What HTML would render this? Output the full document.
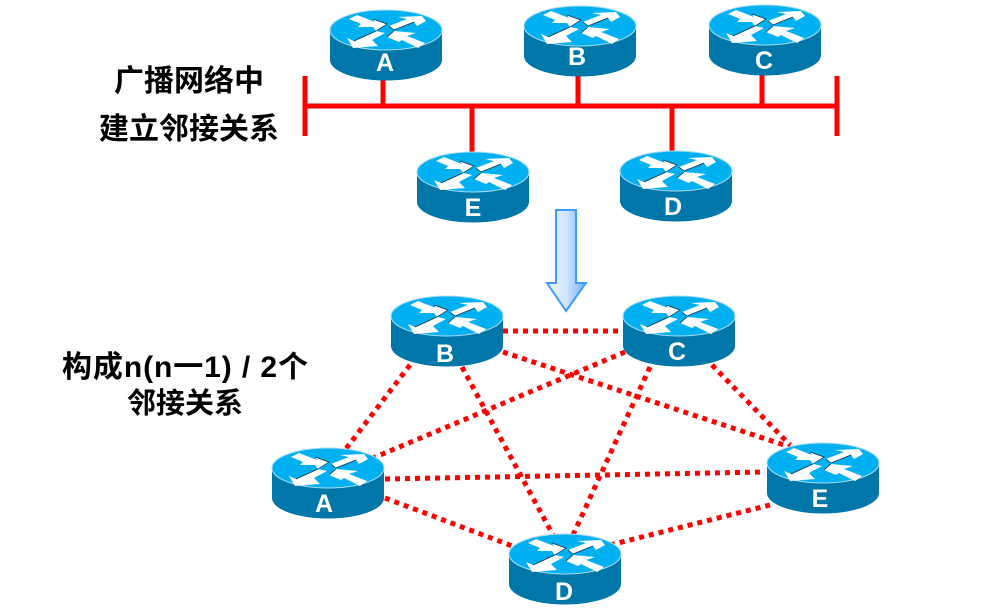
<!DOCTYPE html>
<html>
<head>
<meta charset="utf-8">
<style>
html,body{margin:0;padding:0;background:#fff;}
body{width:1002px;height:612px;overflow:hidden;}
svg{display:block;}
.t{font-family:"Liberation Sans","Noto Sans CJK SC",sans-serif;font-weight:700;font-size:30px;fill:#000;text-anchor:middle;}
.u{font-size:29px;}
.l{font-family:"Liberation Sans",sans-serif;font-weight:700;font-size:25px;fill:#fff;text-anchor:middle;}
</style>
</head>
<body>
<svg width="1002" height="612" viewBox="0 0 1002 612" xmlns="http://www.w3.org/2000/svg">
<defs>
<linearGradient id="ag" x1="0" x2="1" y1="0" y2="0">
<stop offset="0" stop-color="#f2f8ff"/><stop offset="0.5" stop-color="#cfe4fb"/><stop offset="1" stop-color="#6fb2fb"/>
</linearGradient>
<g id="r" transform="translate(0,-10)">
<path d="M-56,30 V60 A56,20.5 0 0 0 56,60 V30 Z" fill="#0077a8"/>
<ellipse cx="0" cy="30" rx="56" ry="20" fill="#00b0f0" stroke="#a8dcf0" stroke-width="1"/>
<g fill="#fff">
<polygon points="-37,19 -29,15 -11,22 -13,19 1,24 -10,31 -13,27 -28,27 -25,24"/>
<polygon points="3,26 21,19 12,17 36,16 40,21 31,26 28,22 8,30"/>
<polygon points="-1,33 -14,40 -8,46 -33,48 -39,38 -32,41 -10,31"/>
<polygon points="1,37 8,31 30,33 21,36 39,43 32,48 16,40 13,42"/>
</g>
<g fill="none" stroke="#0a2a3a" stroke-width="0.7">
<polyline points="-13,19 1,24 -10,31"/>
<polyline points="3,26 8,30 28,22"/>
<polyline points="-10,31 -32,41"/>
<polyline points="1,37 8,31"/>
</g>
</g>
</defs>

<!-- bus -->
<g stroke="#ff0000" stroke-width="5" fill="none">
<line x1="305" y1="106" x2="837" y2="106"/>
<line x1="305" y1="76" x2="305" y2="136"/>
<line x1="837" y1="76" x2="837" y2="136"/>
<line x1="383" y1="78" x2="383" y2="106"/>
<line x1="578" y1="75" x2="578" y2="106"/>
<line x1="762" y1="75" x2="762" y2="106"/>
<line x1="472" y1="106" x2="472" y2="155"/>
<line x1="672" y1="106" x2="672" y2="155"/>
</g>

<!-- dotted mesh -->
<g stroke="#ff0000" stroke-width="5" fill="none" stroke-dasharray="5 5">
<line x1="503" y1="331" x2="623" y2="331"/>
<line x1="410" y1="365" x2="345" y2="450"/>
<line x1="462" y1="367" x2="553" y2="535"/>
<line x1="503" y1="352" x2="790" y2="447"/>
<line x1="625" y1="352" x2="347" y2="469"/>
<line x1="650" y1="367" x2="573" y2="535"/>
<line x1="712" y1="365" x2="790" y2="445"/>
<line x1="385" y1="479" x2="765" y2="472"/>
<line x1="385" y1="498" x2="515" y2="547"/>
<line x1="610" y1="545" x2="770" y2="505"/>
</g>

<!-- routers -->
<use href="#r" x="386" y="10"/><text class="l" x="385" y="71">A</text>
<use href="#r" x="580" y="6"/><text class="l" x="577" y="65">B</text>
<use href="#r" x="765" y="5"/><text class="l" x="764" y="69">C</text>
<use href="#r" x="473" y="152"/><text class="l" x="473" y="216">E</text>
<use href="#r" x="676" y="151"/><text class="l" x="673" y="215">D</text>

<use href="#r" x="447" y="296"/><text class="l" x="445" y="362">B</text>
<use href="#r" x="679" y="296"/><text class="l" x="677" y="360">C</text>
<use href="#r" x="328" y="448"/><text class="l" x="324" y="512">A</text>
<use href="#r" x="823" y="443"/><text class="l" x="820" y="507">E</text>
<use href="#r" x="565" y="534"/><text class="l" x="564" y="600">D</text>

<!-- arrow -->
<polygon points="556,210 576,210 576,283 586,283 566,311 547,283 556,283" fill="url(#ag)" stroke="#3f9cff" stroke-width="2"/>

<!-- text -->
<text class="t" x="189" y="91">广播网络中</text>
<text class="t" x="189" y="139">建立邻接关系</text>
<text class="t" x="185" y="377" textLength="246" lengthAdjust="spacing">构成n(n一1) / 2个</text>
<text class="t u" x="185" y="413">邻接关系</text>
</svg>
</body>
</html>
